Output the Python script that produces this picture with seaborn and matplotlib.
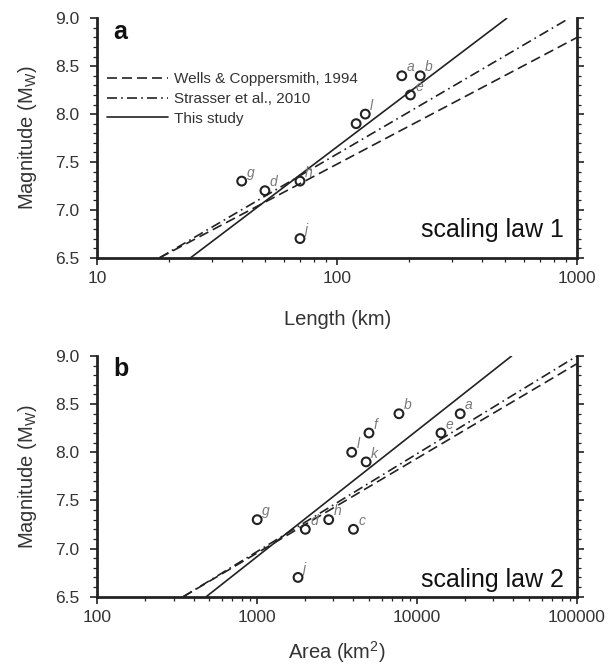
import numpy as np
import pandas as pd
import matplotlib
matplotlib.use("Agg")
import matplotlib.pyplot as plt
from matplotlib.ticker import LogLocator, FixedLocator, MultipleLocator, FuncFormatter, NullFormatter
from matplotlib.lines import Line2D
import seaborn as sns

# ---------------- data ----------------
# panel a : rupture length (km) vs magnitude
len_names = ["a", "b", "e", "l", "k", "g", "d", "h", "j"]
len_km = [186, 222, 202, 131, 120, 40, 50, 70, 70]
len_mw = [8.4, 8.4, 8.2, 8.0, 7.9, 7.3, 7.2, 7.3, 6.7]
len_show_label = [True, True, True, True, False, True, True, True, True]

# panel b : rupture area (km2) vs magnitude
area_names = ["a", "b", "e", "f", "l", "k", "g", "d", "h", "c", "j"]
area_km2 = [18600, 7700, 14100, 5000, 3900, 4800, 1000, 2000, 2800, 4000, 1800]
area_mw = [8.4, 8.4, 8.2, 8.2, 8.0, 7.9, 7.3, 7.2, 7.3, 7.2, 6.7]

# scaling-law lines (end points)
len_wc_x = [18.2, 1000]
len_wc_m = [6.5, 8.80]
len_st_x = [18.2, 927]
len_st_m = [6.5, 9.0]
len_this_x = [24.5, 509]
len_this_m = [6.5, 9.0]

area_wc_x = [345, 100000]
area_wc_m = [6.5, 8.92]
area_st_x = [345, 100000]
area_st_m = [6.5, 9.0]
area_this_x = [480, 39000]
area_this_m = [6.5, 9.0]

legend_labels = ["Wells & Coppersmith, 1994", "Strasser et al., 2010", "This study"]
panel_letters = ["a", "b"]
panel_notes = ["scaling law 1", "scaling law 2"]
x_labels = ["Length (km)", "Area (km$^\\mathregular{2}$)"]
y_label = "Magnitude (M$_\\mathregular{W}$)"
len_ticks = [10, 100, 1000]
area_ticks = [100, 1000, 10000, 100000]
y_ticks = [6.5, 7.0, 7.5, 8.0, 8.5, 9.0]

# ---------------- style ----------------
sns.set_style("ticks")
plt.rcParams["font.family"] = ["Liberation Sans", "DejaVu Sans"]
plt.rcParams["mathtext.fontset"] = "custom"
plt.rcParams["mathtext.rm"] = "Liberation Sans"

INK = "#222222"
TXT = "#333333"
LBL = "#777777"
LW = 1.2
DASH = (6, 3)
DASHDOT = (6, 2.5, 1, 2.5)

fig = plt.figure(figsize=(6.10, 6.67), dpi=100)
ax1 = fig.add_axes([0.1595, 0.6136, 0.7864, 0.3589])
ax2 = fig.add_axes([0.1595, 0.1054, 0.7864, 0.3609])


def style_axis(ax, xlim, xticks, xlabel, xlabelpad):
    ax.set_xscale("log")
    ax.set_xlim(*xlim)
    ax.set_ylim(6.5, 9.0)
    for s in ["top"]:
        ax.spines[s].set_visible(False)
    for s in ["left", "bottom", "right"]:
        ax.spines[s].set_visible(True)
        ax.spines[s].set_linewidth(2.0)
        ax.spines[s].set_color(INK)
    ax.xaxis.set_major_locator(FixedLocator(xticks))
    ax.xaxis.set_major_formatter(FuncFormatter(lambda v, p: f"{int(round(v))}"))
    ax.xaxis.set_minor_locator(LogLocator(base=10, subs=np.arange(2, 10)))
    ax.xaxis.set_minor_formatter(NullFormatter())
    ax.yaxis.set_major_locator(FixedLocator(y_ticks))
    ax.yaxis.set_major_formatter(FuncFormatter(lambda v, p: f"{v:.1f}"))
    ax.yaxis.set_minor_locator(MultipleLocator(0.1))
    ax.tick_params(axis="both", which="major", direction="out", length=4.7, width=1.2,
                   color=INK, labelcolor=TXT, labelsize=12.5, pad=5)
    ax.tick_params(axis="both", which="minor", direction="out", length=3.2, width=0.9, color=INK)
    ax.tick_params(axis="y", which="major", pad=8)
    ax.tick_params(axis="y", which="both", left=True, right=True, labelright=False)
    ax.tick_params(axis="x", which="both", bottom=True, top=False)
    ax.set_xlabel(xlabel, fontsize=14.5, color=TXT, labelpad=xlabelpad)
    ax.set_ylabel(y_label, fontsize=14.5, color=TXT, labelpad=12)


def draw_panel(ax, xs, ms, names, show, lines, letter, note, note_y):
    df = pd.DataFrame({"x": xs, "m": ms})
    (wx, wm), (sx, sm), (tx, tm) = lines
    sns.lineplot(x=wx, y=wm, ax=ax, color=INK, lw=LW, sort=False,
                 estimator=None).lines[-1].set_dashes(DASH)
    sns.lineplot(x=sx, y=sm, ax=ax, color=INK, lw=LW, sort=False,
                 estimator=None).lines[-1].set_dashes(DASHDOT)
    sns.lineplot(x=tx, y=tm, ax=ax, color=INK, lw=LW, sort=False, estimator=None)
    sns.scatterplot(data=df, x="x", y="m", ax=ax, marker="o", s=40,
                    facecolor="none", edgecolor=INK, linewidth=1.5, zorder=3)
    for n, x, m, sh in zip(names, xs, ms, show):
        if sh:
            ax.annotate(n, (x, m), xytext=(3.5, 6.0), textcoords="offset points",
                        ha="left", va="center", fontsize=10, style="italic",
                        color=LBL, zorder=2)
    ax.text(0.033, 0.915, letter, transform=ax.transAxes, fontsize=18,
            fontweight="bold", color="#111111", ha="left", va="baseline")
    ax.text(0.9735, note_y, note, transform=ax.transAxes, fontsize=18,
            color="#111111", ha="right", va="baseline")


draw_panel(ax1, len_km, len_mw, len_names, len_show_label,
           [(len_wc_x, len_wc_m), (len_st_x, len_st_m), (len_this_x, len_this_m)],
           panel_letters[0], panel_notes[0], 0.085)
draw_panel(ax2, area_km2, area_mw, area_names, [True] * len(area_names),
           [(area_wc_x, area_wc_m), (area_st_x, area_st_m), (area_this_x, area_this_m)],
           panel_letters[1], panel_notes[1], 0.040)

style_axis(ax1, (10, 1000), len_ticks, x_labels[0], 17)
style_axis(ax2, (100, 100000), area_ticks, x_labels[1], 10)

handles = [
    Line2D([0], [0], color=INK, lw=LW, dashes=DASH),
    Line2D([0], [0], color=INK, lw=LW, dashes=DASHDOT),
    Line2D([0], [0], color=INK, lw=LW),
]
ax1.legend(handles, legend_labels, loc="upper left", bbox_to_anchor=(0.02, 0.775),
           frameon=False, fontsize=11, labelcolor=TXT, handlelength=4.0,
           handletextpad=0.4, labelspacing=0.38, borderpad=0, borderaxespad=0)

fig.savefig("out.png", dpi=100)
